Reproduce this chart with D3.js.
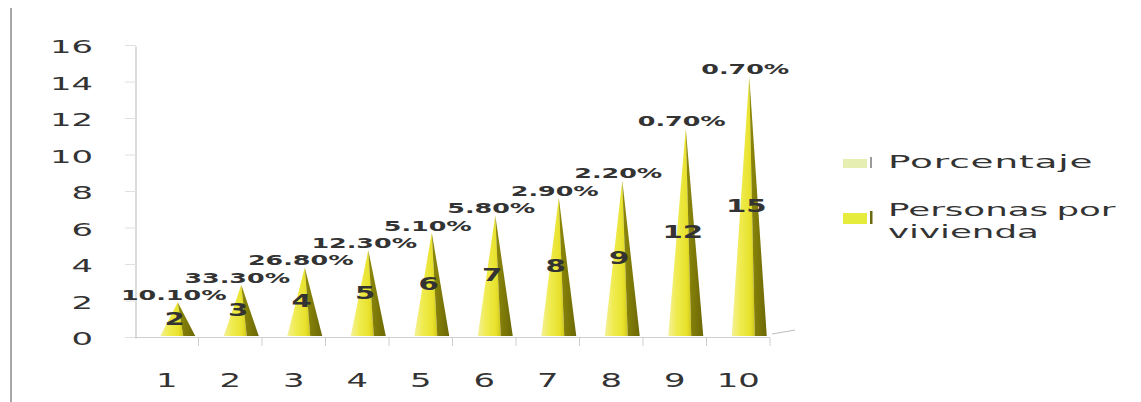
<!DOCTYPE html>
<html><head><meta charset="utf-8">
<script src="https://cdn.jsdelivr.net/npm/d3@7"></script>
<style>html,body{margin:0;padding:0;background:#fff;} svg{display:block;}</style>
</head><body>
<svg id="c" width="1141" height="402"></svg>
<script>
// ---- data ----
const categories = ["1","2","3","4","5","6","7","8","9","10"];
const personas = [2,3,4,5,6,7,8,9,12,15];
const porcentaje = [10.1,33.3,26.8,12.3,5.1,5.8,2.9,2.2,0.7,0.7];
const yTicks = [0,2,4,6,8,10,12,14,16];
const legendItems = ["Porcentaje","Personas por vivienda"];

const FONT = "'DejaVu Sans', Verdana, sans-serif";
const svg = d3.select("#c");

// scales
const x = d3.scaleBand().domain(categories).range([135, 770]);
const y = d3.scaleLinear().domain([0, 16]).range([338.5, 46.5]);
const yCone = d3.scaleLinear().domain([0, 16]).range([337, 58.6]); // back plane (3D depth)
const depth = 11;
const cx = c => x(c) + x.bandwidth() / 2 + depth;

// stretched text helper
function stext(g, tx, ty, str, size, sx, anchor, fill, weight) {
  return g.append("text")
    .attr("transform", `translate(${tx},${ty}) scale(${sx},1)`)
    .attr("text-anchor", anchor)
    .attr("font-family", FONT)
    .attr("font-size", size)
    .attr("font-weight", weight || "normal")
    .attr("fill", fill)
    .text(str);
}

// defs
const defs = svg.append("defs");
const gl = defs.append("linearGradient").attr("id", "lightG").attr("x1", 0).attr("x2", 1).attr("y1", 0).attr("y2", 0);
[[0, "#f4f19a"], [0.35, "#f0ec52"], [0.8, "#e8e22c"], [1, "#cfc61c"]].forEach(s => gl.append("stop").attr("offset", s[0]).attr("stop-color", s[1]));
const gd = defs.append("linearGradient").attr("id", "darkG").attr("x1", 0).attr("x2", 1).attr("y1", 0).attr("y2", 0);
[[0, "#8f8a0a"], [1, "#6c6806"]].forEach(s => gd.append("stop").attr("offset", s[0]).attr("stop-color", s[1]));

// frame line (left)
svg.append("line").attr("x1", 11).attr("x2", 11).attr("y1", 8).attr("y2", 402)
  .attr("stroke", "#8a8a8a").attr("stroke-width", 1.5);

// y axis
const gy = svg.append("g");
gy.append("line").attr("x1", 136).attr("x2", 136).attr("y1", y(16)).attr("y2", y(0))
  .attr("stroke", "#c4c4c4").attr("stroke-width", 1.2);
yTicks.forEach(t => {
  gy.append("line").attr("x1", 125).attr("x2", 136).attr("y1", y(t) - 1).attr("y2", y(t) - 1)
    .attr("stroke", "#e0e0e0").attr("stroke-width", 1);
  stext(gy, 93, y(t) + 6.5, String(t), 18, 1.88, "end", "#333");
});

// x axis
const gx = svg.append("g");
gx.append("line").attr("x1", 135).attr("x2", 770).attr("y1", 337.5).attr("y2", 337.5)
  .attr("stroke", "#cfcfcf").attr("stroke-width", 1.2);
gx.append("line").attr("x1", 772).attr("x2", 795).attr("y1", 334).attr("y2", 330)
  .attr("stroke", "#bdbdbd").attr("stroke-width", 1);
categories.forEach((c, i) => {
  const xx = x(c) + x.bandwidth();
  gx.append("line").attr("x1", xx).attr("x2", xx).attr("y1", 338).attr("y2", 346)
    .attr("stroke", "#cfcfcf").attr("stroke-width", 1);
  stext(gx, x(c) + x.bandwidth() / 2, 387, c, 19, 1.78, "middle", "#333");
});

// cones
const gc = svg.append("g");
categories.forEach((c, i) => {
  const v = personas[i];
  const X = cx(c), top = yCone(v), base = yCone(0) - 1;
  gc.append("polygon")
    .attr("points", `${X},${top} ${X - 17.5},${base} ${X + 5.5},${base}`)
    .attr("fill", "url(#lightG)");
  gc.append("polygon")
    .attr("points", `${X},${top} ${X + 5.5},${base} ${X + 17.5},${base}`)
    .attr("fill", "url(#darkG)");
});

// labels
const gt = svg.append("g");
categories.forEach((c, i) => {
  const v = personas[i];
  const X = cx(c);
  stext(gt, X - 3, yCone(v / 2) + 5, String(v), 17, 1.72, "middle", "#333", "bold");
  stext(gt, X - 4, yCone(v) - 2, porcentaje[i].toFixed(2) + "%", 14.5, 1.75, "middle", "#333", "bold");
});

// legend
const lg = svg.append("g");
lg.append("rect").attr("x", 843).attr("y", 159).attr("width", 24).attr("height", 9).attr("fill", "#e6eeb2");
lg.append("rect").attr("x", 870).attr("y", 157).attr("width", 2).attr("height", 11).attr("fill", "#9a9a9a");
stext(lg, 888, 168, legendItems[0], 18, 2.08, "start", "#333").attr("letter-spacing", 0.4);
lg.append("rect").attr("x", 843).attr("y", 213).attr("width", 24).attr("height", 11).attr("fill", "#e6ec3c");
lg.append("rect").attr("x", 870).attr("y", 211).attr("width", 2.5).attr("height", 13).attr("fill", "#6b6a10");
const words = legendItems[1].split(" ");
stext(lg, 888, 216, words.slice(0, 2).join(" "), 18, 1.98, "start", "#333").attr("word-spacing", -1.5);
stext(lg, 888, 238, words.slice(2).join(" "), 18, 1.98, "start", "#333");
</script>
</body></html>
